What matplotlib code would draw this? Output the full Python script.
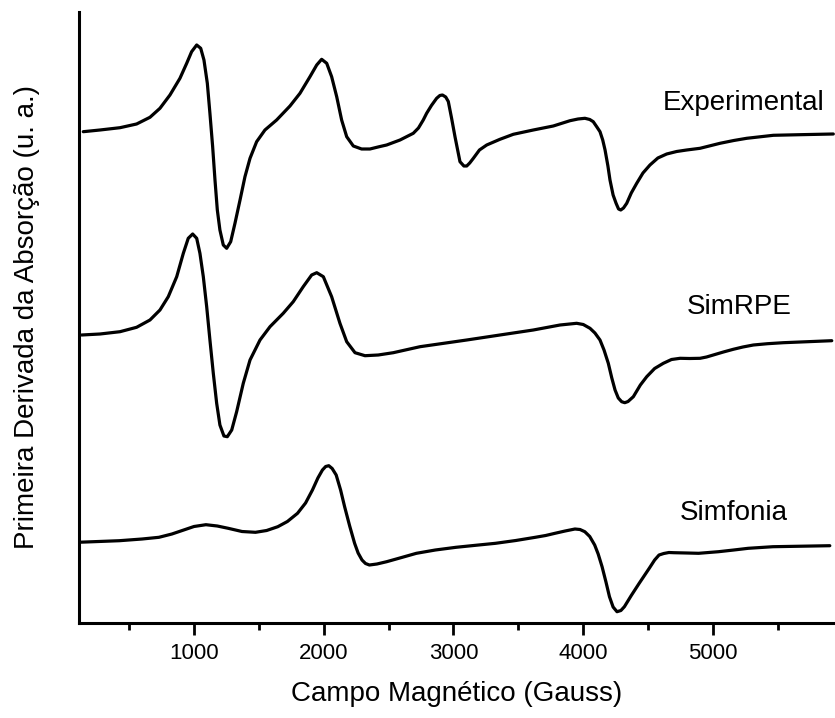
import matplotlib
matplotlib.use("Agg")
import matplotlib.pyplot as plt
from matplotlib.ticker import MultipleLocator

plt.rcParams['font.family'] = ['Liberation Sans', 'DejaVu Sans']

# campo (G) e intensidade (u. a., relativa a linha de base de cada espectro)
exp_campo = [147, 276, 430, 558, 661, 738, 815, 892, 944, 982, 1021, 1052, 1077, 1103,
             1123, 1144, 1162, 1180, 1200, 1226, 1252, 1283, 1316, 1355, 1393, 1432, 1483,
             1547, 1637, 1740, 1817, 1894, 1946, 1984, 2023, 2061, 2100, 2138, 2177, 2228,
             2292, 2356, 2428, 2485, 2588, 2690, 2730, 2767, 2793, 2830, 2870, 2895, 2915,
             2940, 2960, 2985, 3012, 3050, 3080, 3102, 3125, 3153, 3200, 3256, 3358, 3461,
             3615, 3769, 3898, 3960, 4013, 4050, 4077, 4105, 4129, 4150, 4168, 4190, 4206,
             4230, 4253, 4272, 4289, 4310, 4335, 4370, 4412, 4460, 4514, 4575, 4643, 4720,
             4797, 4900, 5054, 5160, 5260, 5465, 5670, 5927]
exp_int = [1.3, 3, 5.3, 9, 15.7, 24.7, 38, 54.7, 69.7, 81.3, 88, 84.7, 73, 49.7,
           19.7, -13.7, -47, -77, -97, -112, -115.3, -108.7, -90.3, -67, -43.7, -25.3, -8.7,
           3, 13, 27, 39.7, 56.3, 68, 73.7, 69.7, 56.3, 36.3, 13, -3.7, -13,
           -16, -16, -13.7, -12, -7, -0.3, 5, 13, 19.7, 27.5, 34.7, 37.5, 38,
           36, 31.5, 15, -4, -28.7, -33, -33, -30, -25.3, -17, -12, -6.3, -1.3,
           3, 7, 12.3, 14, 14.7, 13.5, 11.3, 6, 1.3, -7, -17, -33, -47,
           -62, -70.3, -76, -77, -75, -70.3, -60, -50.3, -40, -32, -25, -21, -18.5,
           -17, -15.3, -10.3, -7.5, -5.3, -2.3, -1.7, -1]

rpe_campo = [134, 276, 430, 558, 661, 738, 802, 867, 918, 956, 990, 1021, 1046, 1072,
             1098, 1123, 1149, 1175, 1200, 1231, 1257, 1291, 1329, 1380, 1432, 1509, 1586,
             1688, 1765, 1842, 1907, 1946, 1997, 2061, 2125, 2177, 2241, 2318, 2420, 2536,
             2742, 3102, 3358, 3615, 3821, 3949, 4000, 4052, 4090, 4129, 4160, 4193, 4220,
             4245, 4270, 4296, 4320, 4345, 4386, 4440, 4489, 4550, 4617, 4680, 4746, 4820,
             4900, 4950, 5002, 5080, 5156, 5230, 5311, 5420, 5542, 5915]
rpe_int = [1, 2, 4.3, 8.7, 16, 26, 39.3, 59.3, 82.7, 97.7, 102, 97.7, 82.7, 59.3,
           29.3, -4, -37.3, -67.3, -89, -100, -100.7, -94, -75.7, -47.3, -24, -4, 9.3,
           22.7, 34.3, 49.3, 61, 63.3, 59.3, 39.3, 12.7, -5.7, -16.7, -19.7, -19, -16.7,
           -10.7, -4, 1, 6, 11, 12.7, 11.5, 7.7, 3, -4, -14, -27.3, -42,
           -54, -62, -65.7, -66.7, -65.5, -60.7, -49, -40.7, -32.5, -27.3, -23.5, -22.3, -22.5,
           -22.3, -21, -19, -16, -13.3, -11, -9, -7.7, -6.7, -4.7]

simf_campo = [104, 425, 600, 730, 830, 921, 1000, 1092, 1180, 1264, 1370, 1474, 1560, 1646,
              1720, 1798, 1860, 1913, 1955, 1990, 2015, 2039, 2065, 2096, 2130, 2161, 2200,
              2238, 2265, 2295, 2322, 2352, 2410, 2485, 2600, 2714, 2860, 3019, 3170, 3324,
              3480, 3630, 3710, 3782, 3860, 3936, 3975, 4012, 4050, 4088, 4115, 4145, 4175,
              4202, 4230, 4260, 4290, 4317, 4370, 4431, 4510, 4550, 4584, 4620, 4660, 4699,
              4800, 4889, 5042, 5160, 5271, 5462, 5900]
simf_int = [-0.3, 1.3, 3, 4.7, 8, 12, 15.5, 17.3, 16, 13.7, 10.5, 9.7, 11.5, 15.3,
            20.5, 28.7, 39, 52, 64, 72, 75.5, 76.3, 73.5, 67, 52, 35.3, 16,
            -1.3, -11, -18, -21.5, -23, -22, -19.7, -15.5, -11.3, -8, -5.3, -3.3, -1.3,
            1.5, 4.7, 6.5, 8.7, 11, 13, 12.5, 10.3, 5.5, -3, -12, -24.7, -40,
            -54.7, -65, -69.7, -68.5, -64.7, -53.5, -41.3, -26, -18, -13, -11.5, -10.5, -10.7,
            -11, -11.3, -9.7, -8, -6.3, -4.7, -3.7]

nomes = ['Experimental', 'SimRPE', 'Simfonia']
deslocamentos = [490, 287, 81]
pos_rotulos = [(4610, 520), (4800, 316), (4740, 110)]

fig = plt.figure(figsize=(8.35, 7.18), dpi=100)
ax = fig.add_axes([0.0946, 0.1323, 0.9054, 0.851])

espectros = [(exp_campo, exp_int), (rpe_campo, rpe_int), (simf_campo, simf_int)]
for (campo, inten), off in zip(espectros, deslocamentos):
    ax.plot(campo, [v + off for v in inten], color='black', lw=2.3,
            solid_joinstyle='round', solid_capstyle='round')

for nome, (xt, yt) in zip(nomes, pos_rotulos):
    ax.text(xt, yt, nome, fontsize=20, ha='left', va='center')

ax.set_xlim(114, 5940)
ax.set_ylim(0, 611)
ax.xaxis.set_major_locator(MultipleLocator(1000))
ax.xaxis.set_minor_locator(MultipleLocator(500))
ax.set_yticks([])
ax.tick_params(axis='x', which='major', direction='out', length=8.5, width=2, labelsize=16, pad=6)
ax.tick_params(axis='x', which='minor', direction='out', length=5, width=2)
for s in ['top', 'right']:
    ax.spines[s].set_visible(False)
for s in ['left', 'bottom']:
    ax.spines[s].set_linewidth(2.2)

ax.set_xlabel('Campo Magnético (Gauss)', fontsize=20, labelpad=12)
ax.set_ylabel('Primeira Derivada da Absorção (u. a.)', fontsize=20, labelpad=28)

fig.savefig('out.png', dpi=100)
